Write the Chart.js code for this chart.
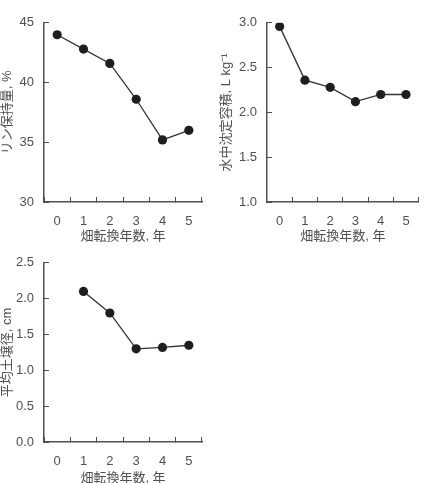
<!DOCTYPE html>
<html>
<head>
<meta charset="utf-8">
<script src="https://cdn.jsdelivr.net/npm/chart.js@4.4.1/dist/chart.umd.min.js"></script>
<style>
  html, body { margin: 0; padding: 0; background: #fff; width: 427px; height: 483px; overflow: hidden; }
  .box { position: absolute; }
  canvas { display: block; }
</style>
</head>
<body>
<div class="box" style="left:0;top:0;"><canvas id="c1" width="214" height="250"></canvas></div>
<div class="box" style="left:214px;top:0;"><canvas id="c2" width="213" height="250"></canvas></div>
<div class="box" style="left:0;top:240px;"><canvas id="c3" width="214" height="243"></canvas></div>
<script>
// ---- data ----
const years = ['0', '1', '2', '3', '4', '5'];
const phosphorusRetention = [44.0, 42.8, 41.6, 38.6, 35.2, 36.0];
const sedimentVolume = [2.96, 2.36, 2.28, 2.12, 2.20, 2.20];
const meanAggregateDiameter = [null, 2.10, 1.80, 1.30, 1.32, 1.35];

const xTitle = '畑転換年数, 年';
const yTitle1 = 'リン保持量, %';
const yTitle2 = '水中沈定容積, L kg\u207B\u00B9';
const yTitle3 = '平均土壌径, cm';

const FONT = '"Liberation Sans", Arial, "Noto Sans CJK JP", sans-serif';
const TEXT = '#505050';
const AXIS = '#505050';

function makeChart(id, data, yMin, yMax, yStep, decimals, yTitle, geom) {
  new Chart(document.getElementById(id), {
    type: 'line',
    data: {
      labels: years,
      datasets: [{
        data: data,
        borderColor: '#333',
        borderWidth: 1.3,
        backgroundColor: '#1e1e1e',
        pointBackgroundColor: '#1e1e1e',
        pointBorderColor: '#1e1e1e',
        pointRadius: 4.6,
        pointBorderWidth: 0,
        tension: 0,
        spanGaps: false
      }]
    },
    options: {
      responsive: false,
      animation: false,
      events: [],
      layout: { padding: { top: geom.top, right: geom.right, left: 0, bottom: 0 } },
      plugins: { legend: { display: false }, tooltip: { enabled: false } },
      scales: {
        x: {
          type: 'category',
          offset: true,
          grid: { offset: true, drawOnChartArea: false, tickLength: -5, color: AXIS, lineWidth: 1 },
          border: { display: true, color: AXIS, width: 1.5 },
          ticks: { color: TEXT, padding: 17, font: { family: FONT, size: 13 }, maxRotation: 0 },
          title: { display: true, text: xTitle, color: TEXT, font: { family: FONT, size: 13 }, padding: { top: 0, bottom: geom.xTitlePad } },
          afterFit: (s) => { s.height = geom.xH; }
        },
        y: {
          min: yMin, max: yMax,
          grid: { drawOnChartArea: false, tickLength: -5, color: AXIS, lineWidth: 1 },
          border: { display: true, color: AXIS, width: 1.5 },
          ticks: {
            stepSize: yStep, color: TEXT, padding: 15,
            font: { family: FONT, size: 13 },
            callback: (v) => Number(v).toFixed(decimals)
          },
          title: { display: true, text: yTitle, color: TEXT, font: { family: FONT, size: 13 }, padding: { top: geom.yTitlePad, bottom: 0 } },
          afterFit: (s) => { s.width = geom.yW; }
        }
      }
    }
  });
}

makeChart('c1', phosphorusRetention, 30, 45, 5, 0, yTitle1,
  { top: 13, right: 12, xH: 48, yW: 44, xTitlePad: 6, yTitlePad: 0 });
makeChart('c2', sedimentVolume, 1.0, 3.0, 0.5, 1, yTitle2,
  { top: 13, right: 1, xH: 48, yW: 53, xTitlePad: 6, yTitlePad: 5 });
makeChart('c3', meanAggregateDiameter, 0, 2.5, 0.5, 1, yTitle3,
  { top: 12, right: 12, xH: 41, yW: 44, xTitlePad: -3, yTitlePad: 0 });
</script>
</body>
</html>
